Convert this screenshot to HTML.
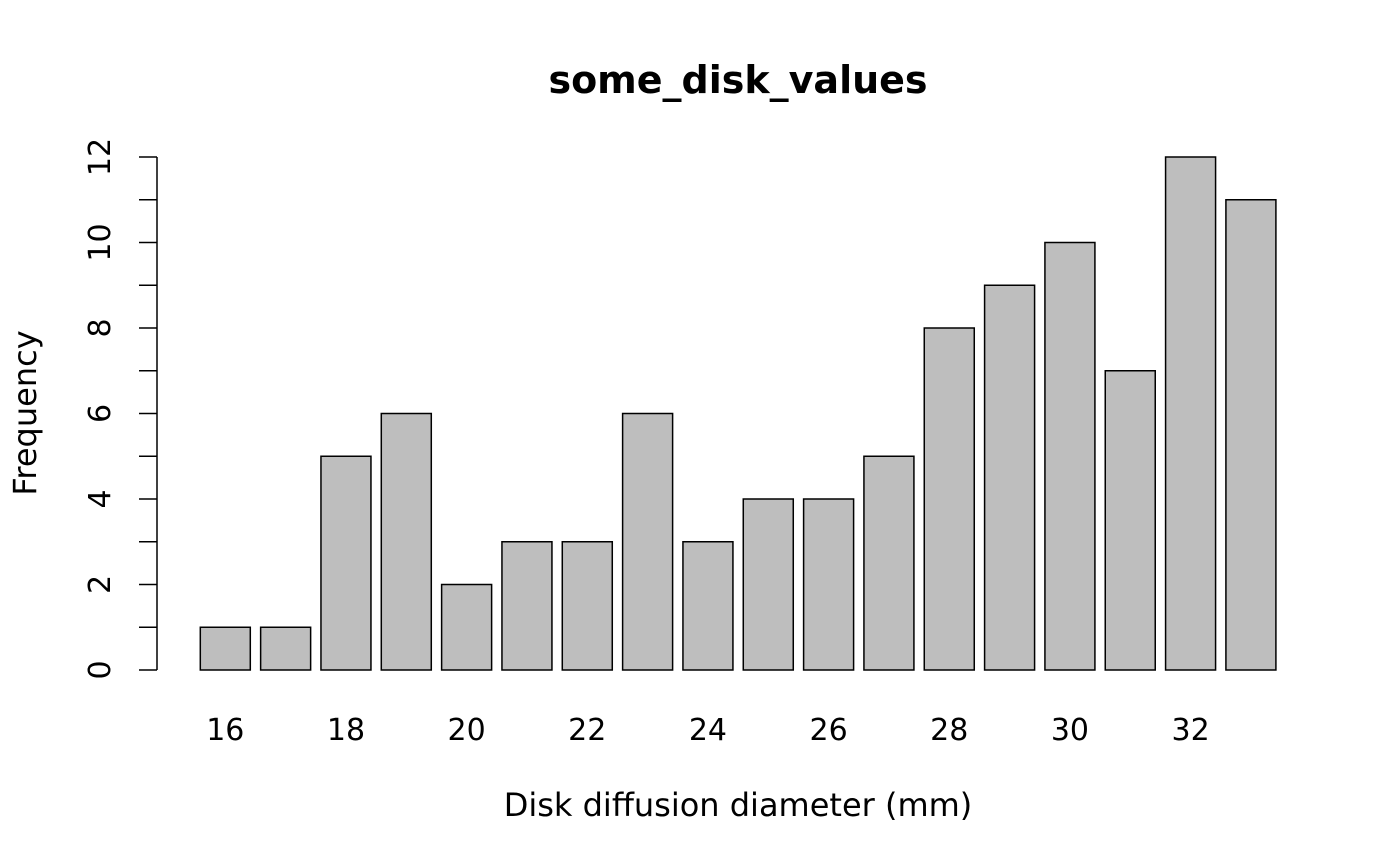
<!DOCTYPE html>
<html><head><meta charset="utf-8"><style>html,body{margin:0;padding:0;background:#fff}svg{display:block}</style></head>
<body>
<svg width="1400" height="866" xmlns="http://www.w3.org/2000/svg" font-family="DejaVu Sans, Liberation Sans, sans-serif">
<rect width="1400" height="866" fill="#fff"/>
<text x="738" y="93" text-anchor="middle" font-size="38" font-weight="bold">some_disk_values</text>
<g id="bars" fill="#bebebe" stroke="#000" stroke-width="1.5"></g>
<g id="axis" stroke="#000" stroke-width="1.5"></g>
<g id="ylab" font-size="30"></g>
<g id="xlab" font-size="30" text-anchor="middle"></g>
<text x="738" y="816" text-anchor="middle" font-size="32">Disk diffusion diameter (mm)</text>
<text transform="translate(36,413) rotate(-90)" text-anchor="middle" font-size="32">Frequency</text>
<script>
var v=[1,1,5,6,2,3,3,6,3,4,4,5,8,9,10,7,12,11],ns="http://www.w3.org/2000/svg";
function el(p,t,a,txt){var e=document.createElementNS(ns,t);for(var k in a)e.setAttribute(k,a[k]);if(txt!=null)e.textContent=txt;document.getElementById(p).appendChild(e);}
var y0=670,u=42.75;
v.forEach(function(h,i){var c=225.3+i*60.33;el('bars','rect',{x:c-25,y:y0-h*u,width:50,height:h*u});});
el('axis','line',{x1:157,y1:y0,x2:157,y2:y0-12*u});
for(var k=0;k<=12;k++){var y=y0-k*u;el('axis','line',{x1:139,y1:y,x2:157,y2:y});
 if(k%2==0)el('ylab','text',{transform:'translate(110,'+y+') rotate(-90)','text-anchor':'middle'},k);}
for(var d=16;d<=32;d+=2){el('xlab','text',{x:225.3+(d-16)*60.33,y:740},d);}
</script>
</svg>
</body></html>
